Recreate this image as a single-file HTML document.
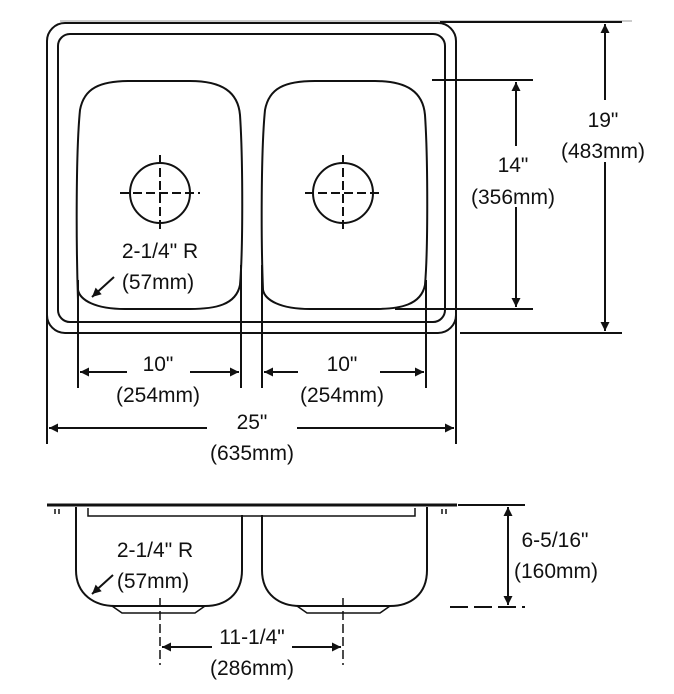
<!DOCTYPE html>
<html><head><meta charset="utf-8"><style>
html,body{margin:0;padding:0;background:#fff;}
svg{display:block;}
text{font-family:"Liberation Sans",Arial,sans-serif;font-size:21px;fill:#111;text-anchor:middle;}
</style></head><body>
<svg width="674" height="694" viewBox="0 0 674 694" xmlns="http://www.w3.org/2000/svg">
<defs>
<marker id="b" viewBox="0 0 10 10" refX="10" refY="5" markerWidth="16" markerHeight="9" orient="auto-start-reverse" markerUnits="userSpaceOnUse"><path d="M0,0L10,5L0,10z" fill="#111"/></marker>
</defs>
<g fill="none" stroke="#111" stroke-width="2">
<line x1="60" y1="21" x2="632" y2="21" stroke="#bbb" stroke-width="1.5"/>
<line x1="440" y1="22" x2="622" y2="22"/>
<rect x="47" y="23" width="409" height="310" rx="18"/>
<rect x="58" y="34" width="387" height="288" rx="12"/>
<path d="M78,300 C76,240 76,150 80,110 C84,88 100,81 130,81 L190,81 C222,81 238,92 240,115 C243,160 243,250 240,285 C236,305 215,309 190,309 L125,309 C95,309 80,300 78,290 Z"/>
<path d="M263,290 C261,240 261,150 265,110 C269,88 285,81 315,81 L375,81 C407,81 423,92 425,115 C428,160 428,250 425,285 C421,305 400,309 375,309 L310,309 C280,309 265,300 263,290 Z"/>
<circle cx="160" cy="193" r="30"/>
<circle cx="343" cy="193" r="30"/>
<g stroke-dasharray="9,4">
<line x1="120" y1="193" x2="200" y2="193"/><line x1="160" y1="155" x2="160" y2="232"/>
<line x1="305" y1="193" x2="382" y2="193"/><line x1="343" y1="155" x2="343" y2="232"/>
</g>
<line x1="432" y1="80" x2="533" y2="80"/>
<line x1="395" y1="309" x2="533" y2="309"/>
<line x1="460" y1="333" x2="622" y2="333"/>
<line x1="516" y1="82" x2="516" y2="146" marker-start="url(#b)"/>
<line x1="516" y1="207" x2="516" y2="307" marker-end="url(#b)"/>
<line x1="605" y1="24" x2="605" y2="100" marker-start="url(#b)"/>
<line x1="605" y1="162" x2="605" y2="331" marker-end="url(#b)"/>
<line x1="78" y1="280" x2="78" y2="388"/>
<line x1="241" y1="265" x2="241" y2="388"/>
<line x1="262" y1="265" x2="262" y2="388"/>
<line x1="426" y1="280" x2="426" y2="388"/>
<line x1="47" y1="310" x2="47" y2="444"/>
<line x1="456" y1="310" x2="456" y2="444"/>
<line x1="80" y1="372" x2="127" y2="372" marker-start="url(#b)"/>
<line x1="190" y1="372" x2="239" y2="372" marker-end="url(#b)"/>
<line x1="264" y1="372" x2="298" y2="372" marker-start="url(#b)"/>
<line x1="380" y1="372" x2="424" y2="372" marker-end="url(#b)"/>
<line x1="49" y1="428" x2="207" y2="428" marker-start="url(#b)"/>
<line x1="297" y1="428" x2="454" y2="428" marker-end="url(#b)"/>
<line x1="114" y1="277" x2="92" y2="297" marker-end="url(#b)"/>
<path d="M47,505 L457,505" stroke-width="3"/>
<path d="M88,508 L88,516 L415,516 L415,508" stroke-width="1.5"/>
<path d="M55,509 v5 M59,509 v5 M442,509 v5 M446,509 v5" stroke-width="1.5"/>
<path d="M76,507 L76,570 C76,595 95,606 115,606 L205,606 C225,606 242,595 242,570 L242,515"/>
<path d="M262,515 L262,570 C262,595 280,606 300,606 L390,606 C410,606 427,595 427,570 L427,507"/>
<path d="M112,606 L122,613 L195,613 L205,606" stroke-width="1.5"/>
<path d="M297,606 L307,613 L380,613 L390,606" stroke-width="1.5"/>
<line x1="458" y1="505" x2="525" y2="505"/>
<line x1="450" y1="607" x2="525" y2="607" stroke-dasharray="18,6"/>
<line x1="508" y1="507" x2="508" y2="605" marker-start="url(#b)" marker-end="url(#b)"/>
<g stroke-dasharray="9,4" stroke-width="1.5">
<line x1="160" y1="598" x2="160" y2="665"/><line x1="343" y1="598" x2="343" y2="665"/>
</g>
<line x1="162" y1="647" x2="212" y2="647" marker-start="url(#b)"/>
<line x1="292" y1="647" x2="341" y2="647" marker-end="url(#b)"/>
<line x1="113" y1="575" x2="92" y2="594" marker-end="url(#b)"/>
</g>
<text x="603" y="127">19"</text>
<text x="603" y="158">(483mm)</text>
<text x="513" y="172">14"</text>
<text x="513" y="204">(356mm)</text>
<text x="160" y="258">2-1/4" R</text>
<text x="158" y="289">(57mm)</text>
<text x="158" y="371">10"</text>
<text x="158" y="402">(254mm)</text>
<text x="342" y="371">10"</text>
<text x="342" y="402">(254mm)</text>
<text x="252" y="429">25"</text>
<text x="252" y="460">(635mm)</text>
<text x="155" y="557">2-1/4" R</text>
<text x="153" y="588">(57mm)</text>
<text x="555" y="547">6-5/16"</text>
<text x="556" y="578">(160mm)</text>
<text x="252" y="644">11-1/4"</text>
<text x="252" y="675">(286mm)</text>
</svg>
</body></html>
